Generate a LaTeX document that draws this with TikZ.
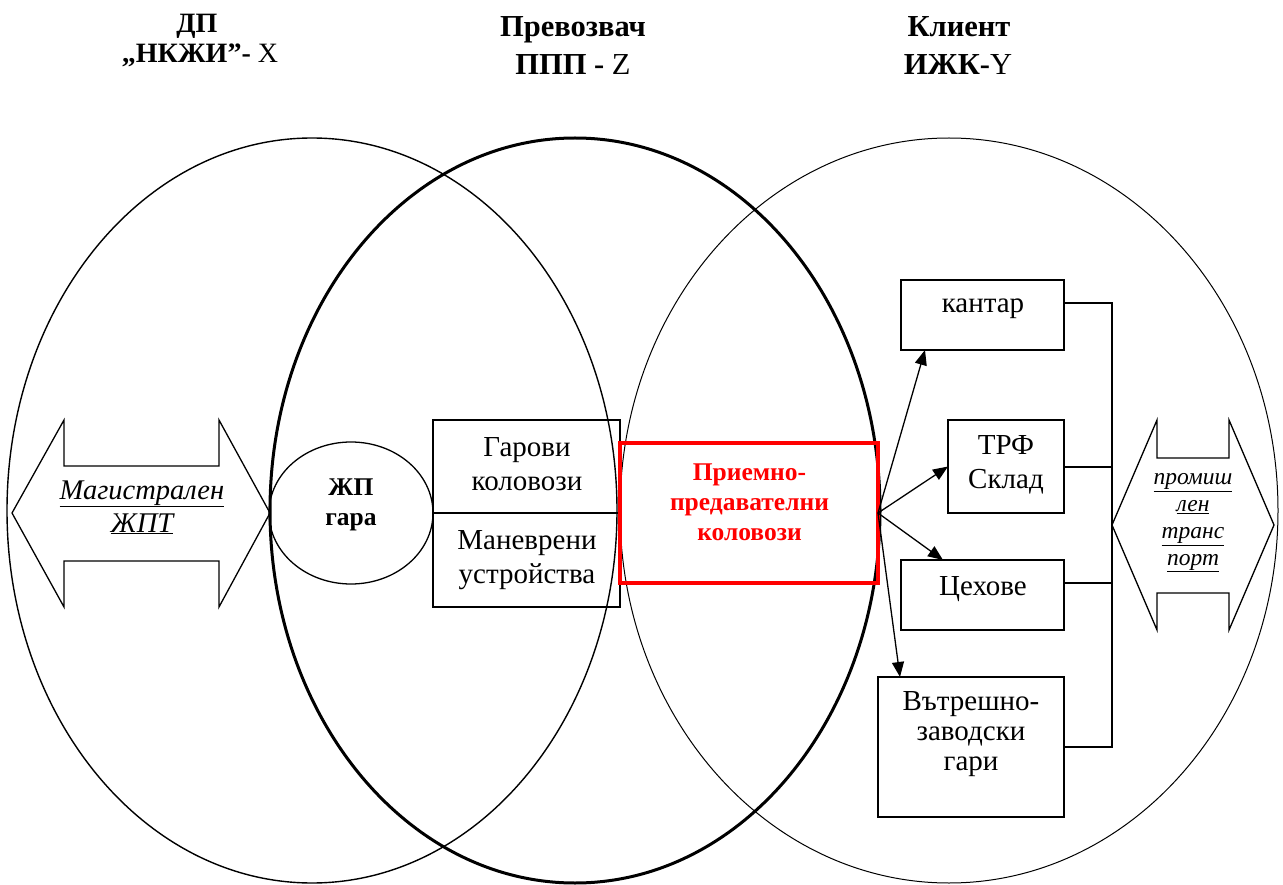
\documentclass[tikz,border=0pt]{standalone}
\usepackage{fontspec}
\setmainfont{Liberation Serif}
\usetikzlibrary{arrows.meta,shapes.geometric,calc}
\definecolor{pred}{RGB}{255,0,0}
\begin{document}
\begin{tikzpicture}[x=1pt,y=-1pt,
  oval/.style={draw, ellipse, inner sep=0pt, outer sep=0pt},
  box/.style={draw, rectangle, line width=1.3pt, inner sep=0pt, outer sep=0pt},
  conn/.style={line width=1.3pt},
  arr/.style={line width=1.3pt, -{Triangle[length=15pt,width=12pt]}},
  title/.style={font=\fontsize{30.5}{36}\selectfont\bfseries, anchor=base, inner sep=0pt},
  stitle/.style={font=\fontsize{28}{33}\selectfont\bfseries, anchor=base, inner sep=0pt},
  body/.style={font=\fontsize{29}{33.5}\selectfont, align=center, anchor=base, inner sep=0pt},
  bbody/.style={font=\fontsize{25.5}{30}\selectfont\bfseries, align=center, anchor=base, inner sep=0pt},
  ibody/.style={font=\fontsize{28.5}{33}\selectfont\itshape, align=center, anchor=base, inner sep=0pt},
  sbody/.style={font=\fontsize{23.5}{26.7}\selectfont\itshape, align=center, anchor=base, inner sep=0pt}]
\useasboundingbox (0,0) rectangle (1283,885);

% titles
\node[stitle] (t1a) at (197,33) {ДП};
\node[stitle] (t1b) at (200,63) {„НКЖИ”- \textmd{X}};
\node[title] (t2a) at (573,37) {Превозвач};
\node[title] (t2b) at (573,75) {ППП - \textmd{Z}};
\node[title] (t3a) at (959,37) {Клиент};
\node[title] (t3b) at (958,75) {ИЖК-\textmd{Y}};

% big ellipses
\node[oval, line width=1.4pt, minimum width=610pt, minimum height=745pt] (dp) at (312,510.5) {};
\node[oval, line width=3pt, minimum width=610pt, minimum height=745pt] (ppp) at (575,510.5) {};
\node[oval, line width=1pt, minimum width=658pt, minimum height=745pt] (izk) at (949,510.5) {};

% left double arrow
\draw[conn] (12,513) -- (64,420) -- (64,466) -- (219,466) -- (219,420) -- (270,513)
  -- (219,607) -- (219,561) -- (64,561) -- (64,607) -- cycle;
\node[ibody] (tmag) at (142,532) {\underline{Магистрален}\\\underline{ЖПТ}};

% station
\node[oval, line width=1.3pt, minimum width=164pt, minimum height=142pt] (gara) at (351,513) {};
\node[bbody] (tgara) at (351,525) {ЖП\\гара};

% boxes
\node[box, minimum width=187pt, minimum height=93pt] (garovi) at (526.5,466.5) {};
\node[box, minimum width=187pt, minimum height=94pt] (manev) at (526.5,560) {};
\node[body] (tgarovi) at (527,490) {Гарови\\коловози};
\node[body] (tmanev) at (527,583) {Маневрени\\устройства};

\node[draw=pred, line width=4pt, rectangle, inner sep=0pt, outer sep=0pt,
  minimum width=258pt, minimum height=140pt] (red) at (749,513) {};
\node[bbody, text=pred] (tred) at (749.5,540) {Приемно-\\предавателни\\коловози};

\node[box, minimum width=163pt, minimum height=70pt] (kantar) at (982.5,315) {};
\node[body] (tkantar) at (983,313) {кантар};
\node[box, minimum width=116pt, minimum height=93pt] (trf) at (1006,466.5) {};
\node[body] (ttrf) at (1006,488) {ТРФ\\Склад};
\node[box, minimum width=163pt, minimum height=70pt] (ceh) at (982.5,595) {};
\node[body] (tceh) at (983,595) {Цехове};
\node[box, minimum width=186pt, minimum height=140pt] (vz) at (971,747) {};
\node[body, font=\fontsize{29}{30}\selectfont] (tvz) at (971,770) {Вътрешно-\\заводски\\гари};

% arrows from red box
\draw[arr] (red.east) -- ($(kantar.south west)+(24,0)$);
\draw[arr] (red.east) -- (trf.west);
\draw[arr] (red.east) -- ($(ceh.north west)+(42,0)$);
\draw[arr] (red.east) -- ($(vz.north west)+(22,0)$);

% bus
\coordinate (busT) at (1112,303);
\coordinate (busC) at (1112,583);
\coordinate (busM) at (1112,467);
\draw[conn] ([yshift=12pt]kantar.east) -- (busT) -- (busT |- vz.east) -- (vz.east);
\draw[conn] ([yshift=-0.5pt]trf.east) -- (busM);
\draw[conn] ([yshift=12pt]ceh.east) -- (busC);

% right double arrow
\draw[conn] (1112,525) -- (1157,420) -- (1157,458) -- (1229,458) -- (1229,420) -- (1274,525)
  -- (1229,630) -- (1229,593) -- (1157,593) -- (1157,630) -- cycle;
\node[sbody] (tprom) at (1193,565) {\underline{промиш}\\\underline{лен}\\\underline{транс}\\\underline{порт}};
\end{tikzpicture}
\end{document}
